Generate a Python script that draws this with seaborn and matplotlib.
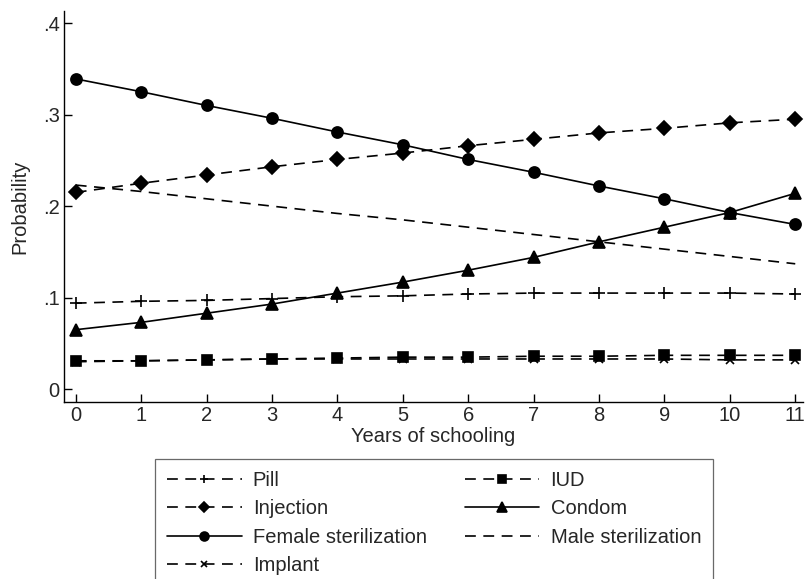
import numpy as np
import pandas as pd
import matplotlib
matplotlib.use('Agg')
import matplotlib.pyplot as plt
import seaborn as sns

years = list(range(12))

pill = [0.094, 0.096, 0.097, 0.099, 0.101, 0.102, 0.104, 0.105, 0.105, 0.105, 0.105, 0.104]
iud = [0.031, 0.031, 0.032, 0.033, 0.034, 0.035, 0.035, 0.036, 0.036, 0.037, 0.037, 0.037]
injection = [0.215, 0.225, 0.234, 0.243, 0.251, 0.258, 0.266, 0.273, 0.280, 0.285, 0.291, 0.295]
condom = [0.065, 0.073, 0.083, 0.093, 0.105, 0.117, 0.130, 0.144, 0.161, 0.177, 0.193, 0.214]
female_ster = [0.339, 0.325, 0.310, 0.296, 0.281, 0.267, 0.251, 0.237, 0.222, 0.208, 0.193, 0.180]
male_ster = [0.223, 0.216, 0.208, 0.200, 0.192, 0.185, 0.177, 0.169, 0.161, 0.153, 0.145, 0.137]
implant = [0.030, 0.031, 0.032, 0.033, 0.033, 0.033, 0.033, 0.033, 0.033, 0.033, 0.032, 0.032]

yticks = [0, 0.1, 0.2, 0.3, 0.4]
ytick_labels = ['0', '.1', '.2', '.3', '.4']

sns.set_style('ticks')
plt.rcParams['font.family'] = ['Liberation Sans', 'DejaVu Sans']

fig = plt.figure(figsize=(8.06, 5.79), dpi=100)
ax = fig.add_axes([0.0794, 0.3057, 0.917, 0.675])

dash = (0, (6.5, 4.5))
# name, values, marker, linestyle, markersize
series = [
    ('Pill', pill, '+', dash, 8),
    ('Injection', injection, 'D', dash, 7),
    ('Female sterilization', female_ster, 'o', '-', 8),
    ('Implant', implant, 'x', dash, 5.5),
    ('IUD', iud, 's', dash, 7),
    ('Condom', condom, '^', '-', 8.5),
    ('Male sterilization', male_ster, None, dash, 0),
]

for name, vals, mk, ls, ms in series:
    df = pd.DataFrame({'year': years, 'prob': vals})
    kw = dict(marker=mk, markersize=ms, markeredgewidth=1.2,
              markeredgecolor='black', markerfacecolor='black') if mk else {}
    sns.lineplot(data=df, x='year', y='prob', ax=ax, color='black',
                 linestyle=ls, linewidth=1.2, label=name, **kw)

ax.set_xlim(-0.18, 11.12)
ax.set_ylim(-0.014, 0.413)
ax.set_xticks(years)
ax.set_yticks(yticks)
ax.set_yticklabels(ytick_labels)
ax.tick_params(axis='both', labelsize=14.5, length=5.5, width=1, color='black', direction='in')
ax.tick_params(axis='x', pad=3)
ax.tick_params(axis='y', pad=3)
ax.set_xlabel('Years of schooling', fontsize=14.5, labelpad=1)
ax.set_ylabel('Probability', fontsize=14.5, labelpad=10)
sns.despine(ax=ax)
for s in ['left', 'bottom']:
    ax.spines[s].set_linewidth(1.0)
    ax.spines[s].set_color('black')

handles, labels = ax.get_legend_handles_labels()
ax.get_legend().remove()
leg = fig.legend(handles, labels, ncol=2, loc='upper left',
                 bbox_to_anchor=(155 / 806, 1 - 459 / 579), frameon=True,
                 fancybox=False, edgecolor='#444444', fontsize=14.5,
                 handlelength=3.7, handletextpad=0.55, columnspacing=1.9,
                 labelspacing=0.46, markerscale=0.8, borderpad=0.6,
                 borderaxespad=0)
leg.get_frame().set_linewidth(0.9)

fig.savefig('out.png', dpi=100)
